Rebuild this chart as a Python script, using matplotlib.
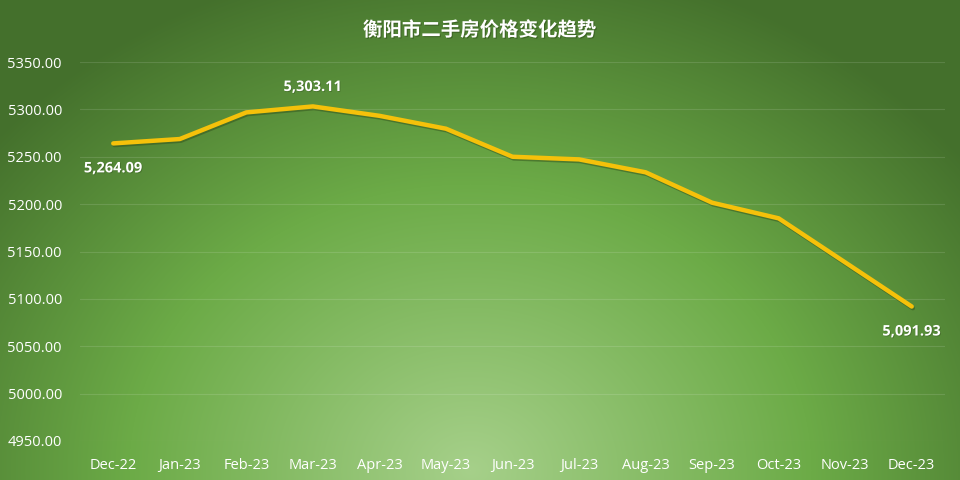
import numpy as np
import matplotlib.pyplot as plt
import matplotlib.patheffects as pe

months = ['Dec-22', 'Jan-23', 'Feb-23', 'Mar-23', 'Apr-23', 'May-23', 'Jun-23',
          'Jul-23', 'Aug-23', 'Sep-23', 'Oct-23', 'Nov-23', 'Dec-23']
prices = [5264.09, 5268.7, 5296.8, 5303.11, 5293.2, 5279.6, 5250.0,
          5247.2, 5233.6, 5201.5, 5185.0, 5138.5, 5091.93]
yticks = [4950, 5000, 5050, 5100, 5150, 5200, 5250, 5300, 5350]
labelled = [0, 3, 12]

plt.rcParams['font.family'] = ['Open Sans', 'Noto Sans CJK SC', 'DejaVu Sans']

fig = plt.figure(figsize=(9.6, 4.8), dpi=100)

# radial green gradient background
bg = fig.add_axes([0, 0, 1, 1])
bg.set_axis_off()
h, w = 480, 960
yy, xx = np.mgrid[0:h, 0:w]
d = np.sqrt(((xx - 470) / 620.0) ** 2 + ((yy - 470) / 520.0) ** 2)
d = np.clip(d, 0, 1)
inner = np.array([0xa6, 0xd0, 0x8a]) / 255.0
mid = np.array([0x6c, 0xab, 0x47]) / 255.0
outer = np.array([0x44, 0x70, 0x2c]) / 255.0
t1 = np.clip(d / 0.55, 0, 1)[..., None]
t2 = np.clip((d - 0.55) / 0.45, 0, 1)[..., None]
img = inner * (1 - t1) + mid * t1
img = img * (1 - t2) + outer * t2
bg.imshow(img, extent=[0, 1, 0, 1], aspect='auto', origin='upper')
bg.set_xlim(0, 1)
bg.set_ylim(0, 1)

ax = fig.add_axes([80 / 960, 1 - 441 / 480, 865 / 960, 379 / 480])
ax.patch.set_alpha(0)
x = np.arange(len(months))
ax.plot(x, prices, color='#f5c10a', lw=3.2, solid_capstyle='round', zorder=3,
        path_effects=[pe.SimpleLineShadow(offset=(0.8, -1.2), shadow_color='#2d4a18', alpha=0.45),
                      pe.Normal()])

ax.set_xlim(-0.5, len(months) - 0.5)
ax.set_ylim(4950, 5350)
ax.set_yticks(yticks)
ax.set_yticklabels(['%.2f' % v for v in yticks])
ax.set_xticks(x)
ax.set_xticklabels(months)
ax.tick_params(axis='both', length=0, colors='white', labelsize=10.5)
ax.tick_params(axis='y', pad=13)
ax.tick_params(axis='x', pad=20)
for lb in ax.get_xticklabels():
    lb.set_va('baseline')
for s in ax.spines.values():
    s.set_visible(False)
ax.grid(axis='y', color='white', alpha=0.12, lw=0.8)
ax.set_axisbelow(True)

offsets = {0: (0, -18), 3: (0, 14), 12: (0, -18)}
for i in labelled:
    dx, dy = offsets[i]
    ax.annotate('{:,.2f}'.format(prices[i]), (x[i], prices[i]), xytext=(dx, dy),
                textcoords='offset points', ha='center', va='center',
                color='white', fontsize=10.5, fontweight='bold',
                path_effects=[pe.withSimplePatchShadow(offset=(0.6, -0.6), shadow_rgbFace='#2d4a18', alpha=0.4)])

fig.text(0.5, 1 - 30 / 480, '衡阳市二手房价格变化趋势', ha='center', va='center',
         color='white', fontsize=14, fontweight='bold', family=['Noto Sans CJK SC', 'DejaVu Sans'],
         path_effects=[pe.withSimplePatchShadow(offset=(0.8, -0.8), shadow_rgbFace='#2d4a18', alpha=0.5)])

fig.savefig('out.png', dpi=100)
